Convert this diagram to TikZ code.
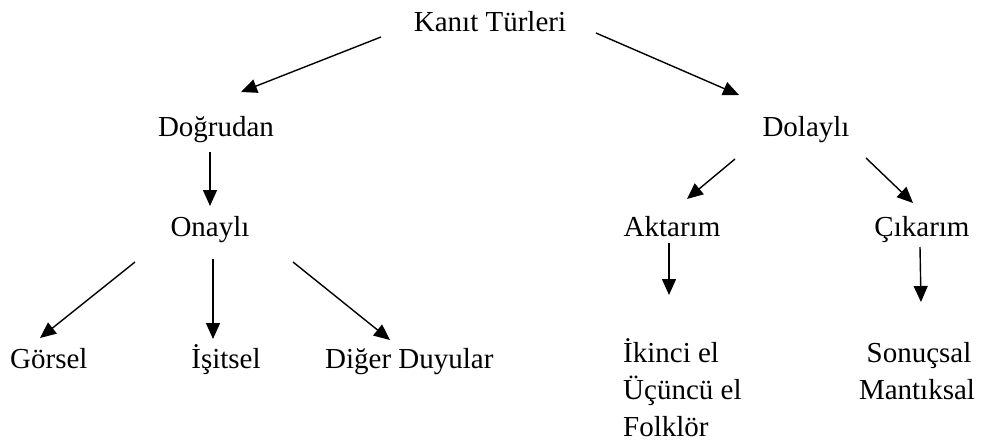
\documentclass[tikz,border=0pt]{standalone}
\usepackage{fontspec}
\setmainfont{Liberation Serif}
\usetikzlibrary{arrows.meta}
\tikzset{
  lbl/.style={inner sep=0pt, anchor=base, font=\fontsize{29}{34}\selectfont},
  lblw/.style={lbl, anchor=base west},
  arr/.style={line width=1.4pt, -{Triangle[length=16pt,width=14pt]}},
}
\begin{document}
\begin{tikzpicture}[x=1pt,y=-1pt]
\useasboundingbox (0,0) rectangle (986,442);
\fill[white] (0,0) rectangle (986,442);

% labels
\node[lbl]  (kt)  at (490,31)  {Kanıt Türleri};
\node[lbl]  (dog) at (216,136) {Doğrudan};
\node[lbl]  (dol) at (806,136) {Dolaylı};
\node[lbl]  (ona) at (210,236) {Onaylı};
\node[lbl]  (akt) at (672,236) {Aktarım};
\node[lbl]  (cik) at (922,236) {Çıkarım};
\node[lblw] (gor) at (10,368)  {Görsel};
\node[lbl]  (isi) at (226,368) {İşitsel};
\node[lblw] (dig) at (325,368) {Diğer Duyular};
\node[lblw] (ik)  at (623,362) {İkinci el};
\node[lblw] (uc)  at (623,399) {Üçüncü el};
\node[lblw] (fol) at (623,436) {Folklör};
\node[lbl]  (son) at (919,362) {Sonuçsal};
\node[lbl]  (man) at (917,399) {Mantıksal};

% connector end points
\coordinate (kt-l)  at (381,37);  \coordinate (dog-t) at (241,92);
\coordinate (kt-r)  at (596,33);  \coordinate (dol-t) at (739,95);
\coordinate (dog-b) at (210,152); \coordinate (ona-t) at (210,206);
\coordinate (ona-l) at (135,262); \coordinate (gor-t) at (40,338);
\coordinate (ona-m) at (213,259); \coordinate (isi-t) at (213,339);
\coordinate (ona-r) at (293,262); \coordinate (dig-t) at (390,340);
\coordinate (dol-l) at (735,159); \coordinate (akt-t) at (687,199);
\coordinate (dol-r) at (866,158); \coordinate (cik-t) at (913,203);
\coordinate (akt-b) at (669,243); \coordinate (ik-t)  at (669,295);
\coordinate (cik-b) at (920,247); \coordinate (son-t) at (921,302);

% connectors
\draw[arr] (kt-l)  -- (dog-t);
\draw[arr] (kt-r)  -- (dol-t);
\draw[arr] (dog-b) -- (ona-t);
\draw[arr] (ona-l) -- (gor-t);
\draw[arr] (ona-m) -- (isi-t);
\draw[arr] (ona-r) -- (dig-t);
\draw[arr] (dol-l) -- (akt-t);
\draw[arr] (dol-r) -- (cik-t);
\draw[arr] (akt-b) -- (ik-t);
\draw[arr] (cik-b) -- (son-t);
\end{tikzpicture}
\end{document}
